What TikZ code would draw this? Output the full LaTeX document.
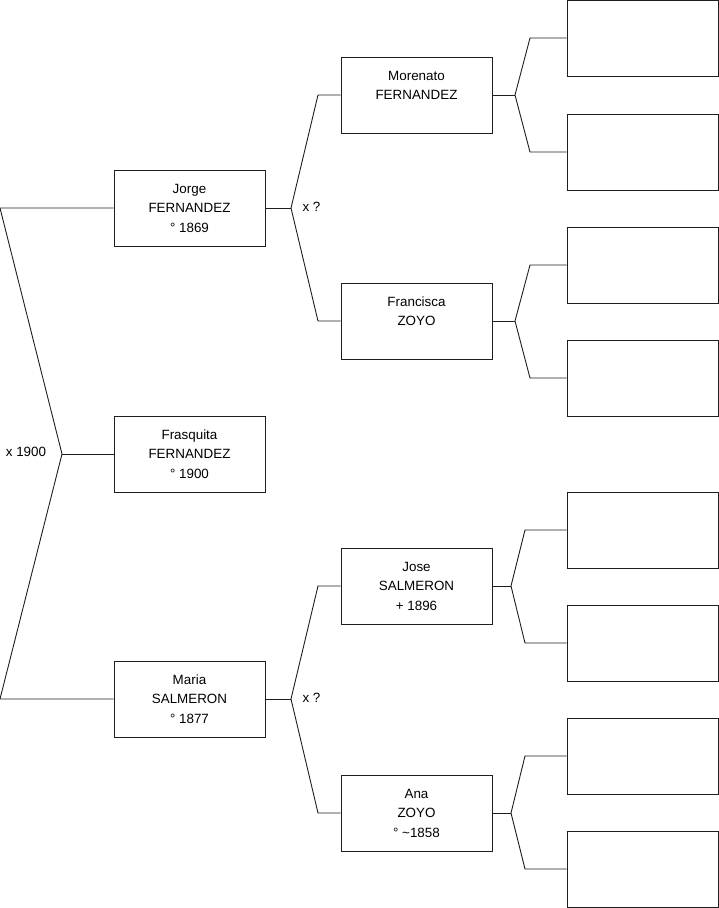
\documentclass[tikz,border=0pt]{standalone}
\usepackage{fontspec}
\setmainfont{Liberation Sans}
\definecolor{lineGray}{RGB}{30, 30, 30}

\tikzset{
  person/.style={draw=lineGray, line width=0.9pt, minimum width=151pt, minimum height=76pt,
    inner sep=0pt, align=center, font=\fontsize{13.4}{19.5}\selectfont},
  emptybox/.style={draw=lineGray, line width=0.9pt, minimum width=151pt, minimum height=76pt},
  link/.style={draw=lineGray, line width=0.9pt},
  note/.style={font=\fontsize{13.4}{16}\selectfont, inner sep=0pt}
}

\begin{document}
\begin{tikzpicture}[x=1pt, y=-1pt]
  \useasboundingbox (0,0) rectangle (719,908);

  \node[person] (jorge) at (189.5,208) {Jorge\\FERNANDEZ\\° 1869};
  \node[person] (frasquita) at (189.5,454) {Frasquita\\FERNANDEZ\\° 1900};
  \node[person] (maria) at (189.5,699) {Maria\\SALMERON\\° 1877};

  \node[person] (morenato) at (416.5,95) {Morenato\\FERNANDEZ\\\mbox{}};
  \node[person] (francisca) at (416.5,321) {Francisca\\ZOYO\\\mbox{}};
  \node[person] (jose) at (416.5,586) {Jose\\SALMERON\\+ 1896};
  \node[person] (ana) at (416.5,813) {Ana\\ZOYO\\° \textasciitilde1858};

  \foreach \i/\y in {1/38, 2/152, 3/265, 4/378, 5/530, 6/643, 7/756, 8/869}
    \node[emptybox] (e\i) at (642.5,\y) {};

  \node[note] (m0) at (26,452) {x 1900};
  \node[note] (mj) at (311.5,207) {x ?};
  \node[note] (mm) at (311.5,698) {x ?};

  \coordinate (f0) at (62,454);
  \coordinate (c0a) at (0,208);
  \coordinate (c0b) at (0,699);
  \draw[link] (jorge.west) -- (c0a) -- (f0) -- (c0b) -- (maria.west);
  \draw[link] (f0) -- (frasquita.west);

  \coordinate (fj) at (291,208);
  \draw[link] (jorge.east) -- (fj);
  \draw[link] (morenato.west) -- (318,95) -- (fj) -- (318,321) -- (francisca.west);

  \coordinate (fm) at (291,699);
  \draw[link] (maria.east) -- (fm);
  \draw[link] (jose.west) -- (318,586) -- (fm) -- (318,813) -- (ana.west);

  \foreach \p/\fx/\cx/\a/\b in {morenato/515/530/1/2, francisca/515/530/3/4, jose/511/525/5/6, ana/511/525/7/8}{
    \coordinate (f\p) at (\fx,0 |- \p.east);
    \draw[link] (\p.east) -- (f\p);
    \draw[link] (e\a.west) -- (\cx,0 |- e\a.west) -- (f\p) -- (\cx,0 |- e\b.west) -- (e\b.west);
  }
\end{tikzpicture}
\end{document}
